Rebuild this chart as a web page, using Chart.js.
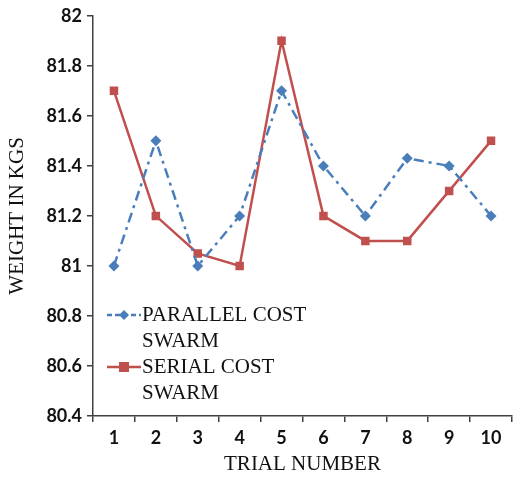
<!DOCTYPE html>
<html>
<head>
<meta charset="utf-8">
<script src="https://cdn.jsdelivr.net/npm/chart.js@4"></script>
<style>
  html, body { margin: 0; padding: 0; background: #fff; }
  #wrap { width: 518px; height: 479px; position: relative; }
</style>
</head>
<body>
<div id="wrap"><canvas id="myChart"></canvas></div>
<script>
// Trial numbers and measured weights (kg)
const trials = ['1', '2', '3', '4', '5', '6', '7', '8', '9', '10'];
const parallelCost = [81.0, 81.5, 81.0, 81.2, 81.7, 81.4, 81.2, 81.43, 81.4, 81.2];
const serialCost = [81.7, 81.2, 81.05, 81.0, 81.9, 81.2, 81.1, 81.1, 81.3, 81.5];
const yMin = 80.4;
const yMax = 82;
const yStep = 0.2;

const BLUE = '#4a7ebb';
const RED = '#c0504d';
const AXIS = '#404040';
const serif = '"Liberation Serif", "DejaVu Serif", serif';
const tickFont = { family: 'Lato, "Open Sans", sans-serif', size: 18, weight: 'bold' };

// Legend sits inside the plot area, lower left
const insideLegend = {
    id: 'insideLegend',
    afterDraw(chart) {
        const c = chart.ctx;
        const items = [
            { lines: ['PARALLEL COST', 'SWARM'], color: BLUE, dash: [5, 3], marker: 'diamond' },
            { lines: ['SERIAL COST', 'SWARM'], color: RED, dash: [], marker: 'square' }
        ];
        const x0 = 107, x1 = 141;
        let y = 315;
        c.save();
        items.forEach(it => {
            c.strokeStyle = it.color;
            c.lineWidth = 2.5;
            c.setLineDash(it.dash);
            c.beginPath();
            c.moveTo(x0, y);
            c.lineTo(x1, y);
            c.stroke();
            c.setLineDash([]);
            c.fillStyle = it.color;
            const mx = (x0 + x1) / 2;
            c.beginPath();
            if (it.marker === 'diamond') {
                c.moveTo(mx, y - 5); c.lineTo(mx + 5, y); c.lineTo(mx, y + 5); c.lineTo(mx - 5, y);
            } else {
                c.rect(mx - 5, y - 5, 10, 10);
            }
            c.fill();
            c.fillStyle = '#111';
            c.font = '21px ' + serif;
            c.textBaseline = 'middle';
            c.textAlign = 'left';
            it.lines.forEach((t, i) => c.fillText(t, x1 + 1, y + i * 26));
            y += 52;
        });
        c.restore();
    }
};

const ctx = document.getElementById('myChart').getContext('2d');

const config = {
    type: 'line',
    data: {
        labels: trials,
        datasets: [{
            label: 'PARALLEL COST SWARM',
            data: parallelCost,
            borderColor: BLUE,
            backgroundColor: BLUE,
            borderWidth: 2.5,
            borderDash: [10, 5, 3, 5],
            pointStyle: 'rectRot',
            pointRadius: 5.5,
            pointBorderWidth: 0,
            tension: 0
        }, {
            label: 'SERIAL COST SWARM',
            data: serialCost,
            borderColor: RED,
            backgroundColor: RED,
            borderWidth: 2.5,
            pointStyle: 'rect',
            pointRadius: 6,
            pointBorderWidth: 0,
            tension: 0
        }]
    },
    options: {
        responsive: true,
        maintainAspectRatio: false,
        animation: false,
        layout: { padding: { top: 15, right: 1, left: 5, bottom: 0 } },
        scales: {
            x: {
                offset: true,
                grid: { drawOnChartArea: false, drawTicks: true, tickLength: 6, color: AXIS, lineWidth: 1.5, offset: true },
                border: { color: AXIS, width: 1.5 },
                ticks: { color: '#111', font: tickFont, padding: 5 },
                title: { display: true, text: 'TRIAL NUMBER', color: '#111', font: { family: serif, size: 21 }, padding: { top: 2, bottom: 2 } },
                afterFit: (s) => { s.height = 63; }
            },
            y: {
                min: yMin,
                max: yMax,
                grid: { drawOnChartArea: false, drawTicks: true, tickLength: 6, color: AXIS, lineWidth: 1.5 },
                border: { color: AXIS, width: 1.5 },
                ticks: {
                    stepSize: yStep,
                    color: '#111',
                    font: tickFont,
                    padding: 5,
                    callback: (v) => Number(v.toFixed(1)).toString()
                },
                title: { display: true, text: 'WEIGHT IN KGS', color: '#111', font: { family: serif, size: 21 }, padding: { top: 0, bottom: 0 } },
                afterFit: (s) => { s.width = 88; }
            }
        },
        plugins: {
            legend: { display: false },
            tooltip: { enabled: false }
        }
    },
    plugins: [insideLegend]
};

const myChart = new Chart(ctx, config);
</script>
</body>
</html>
